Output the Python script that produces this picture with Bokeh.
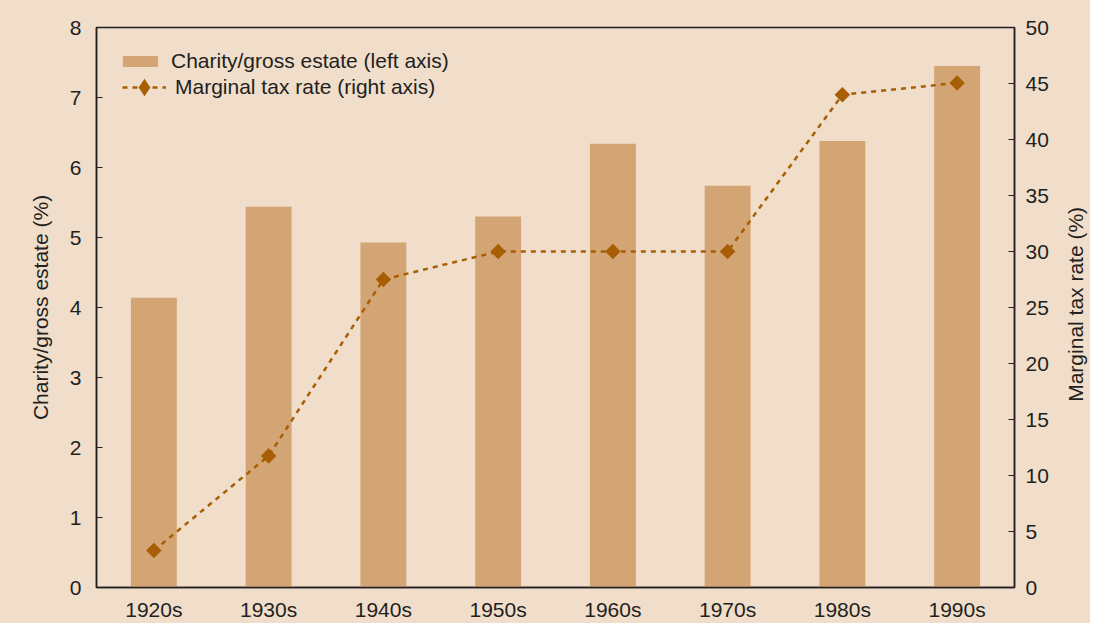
import math
from bokeh.plotting import figure
from bokeh.layouts import row
from bokeh.models import (Range1d, LinearAxis, FixedTicker, Legend, LegendItem,
                          ColumnDataSource, FactorRange)
from bokeh.core.properties import value
from bokeh.embed import file_html
from bokeh.resources import INLINE

decades = ["1920s", "1930s", "1940s", "1950s", "1960s", "1970s", "1980s", "1990s"]
charity = [4.14, 5.44, 4.93, 5.30, 6.34, 5.74, 6.38, 7.45]
tax_rate = [3.3, 11.75, 27.5, 30.0, 30.0, 30.0, 44.0, 45.05]
left_ticks = [0, 1, 2, 3, 4, 5, 6, 7, 8]
right_ticks = [0, 5, 10, 15, 20, 25, 30, 35, 40, 45, 50]
right_title = "Marginal tax rate (%)"

BG = "#f0ddca"
BAR = "#d4a574"
LINE = "#a85e05"
TXT = "#231f20"
FONT = "Liberation Sans"
FS = "21px"

src = ColumnDataSource(dict(x=decades, c=charity, t=tax_rate))

W = 1060
SIDE_W = 30
H = 623
LEFT = 96
RIGHT = 46
TOP = 27
BOT = 34
p = figure(width=W, height=H, x_range=FactorRange(*decades, range_padding=0),
           y_range=Range1d(0, 8), output_backend="svg", toolbar_location=None,
           background_fill_color=BG, border_fill_color=BG,
           min_border_left=LEFT, min_border_right=RIGHT, min_border_top=TOP, min_border_bottom=BOT)
p.outline_line_color = TXT
p.outline_line_width = 1.5
p.grid.visible = False

p.extra_y_ranges = {"right": Range1d(0, 50)}

bars = p.vbar(x="x", top="c", width=0.40, source=src, fill_color=BAR, line_color=None)
line = p.line(x="x", y="t", source=src, y_range_name="right", line_color=LINE,
              line_width=2.5, line_dash="5 5")
pts = p.scatter(x="x", y="t", source=src, y_range_name="right", marker="square",
                size=11, angle=45, angle_units="deg", fill_color=LINE, line_color=None)
# legend-only marker: a single missing value, so nothing is drawn in the plot
leg_src = ColumnDataSource(dict(x=[decades[0]], t=[float("nan")]))
leg_marker = p.scatter(x="x", y="t", source=leg_src, y_range_name="right", marker="diamond",
                       size=17, fill_color=LINE, line_color=None)

def style(ax):
    ax.axis_line_color = TXT
    ax.axis_line_width = 1.5
    ax.major_tick_line_color = TXT
    ax.major_tick_line_width = 1.2
    ax.major_tick_in = 6
    ax.major_tick_out = 0
    ax.minor_tick_line_color = None
    ax.major_label_text_font = FONT
    ax.major_label_text_font_size = FS
    ax.major_label_text_color = TXT
    ax.axis_label_text_font = FONT
    ax.axis_label_text_font_size = FS
    ax.axis_label_text_font_style = "normal"
    ax.axis_label_text_color = TXT

yl = p.yaxis[0]
style(yl)
yl.ticker = FixedTicker(ticks=left_ticks)
yl.axis_label = "Charity/gross estate (%)"
yl.major_label_standoff = 15
yl.axis_label_standoff = 15

xa = p.xaxis[0]
style(xa)
xa.major_tick_in = 0
xa.major_label_standoff = 10

yr = LinearAxis(y_range_name="right", ticker=FixedTicker(ticks=right_ticks))
style(yr)
yr.major_label_standoff = 11
p.add_layout(yr, "right")

def base_legend(items):
    lg = Legend(items=items)
    lg.background_fill_alpha = 0
    lg.border_line_color = None
    lg.label_text_font = FONT
    lg.label_text_font_size = FS
    lg.label_text_color = TXT
    lg.label_standoff = 9
    lg.glyph_width = 44
    return lg

frame_h = H - TOP - BOT

legA = base_legend([LegendItem(label="Charity/gross estate (left axis)", renderers=[bars])])
legA.location = "top_left"
legA.glyph_height = 14
legA.margin = 22
legA.padding = 4
p.add_layout(legA)

legB = base_legend([LegendItem(label="Marginal tax rate (right axis)", renderers=[line, leg_marker])])
legB.glyph_height = 44
legB.margin = 0
legB.padding = 0
legB.location = (26, frame_h - 84)
p.add_layout(legB)

# narrow side panel holding the right axis title, reading bottom-to-top
side = figure(width=SIDE_W, height=H, x_range=Range1d(0, 1), y_range=Range1d(0, H),
              output_backend="svg", toolbar_location=None,
              background_fill_color=BG, border_fill_color=BG, min_border=0)
side.axis.visible = False
side.grid.visible = False
side.outline_line_color = None
side.text(x=[0.5], y=[H - TOP - frame_h / 2], text=[right_title], angle=90, angle_units="deg",
          text_align="center", text_baseline="middle", text_font=value(FONT),
          text_font_size=FS, text_color=TXT)

layout = row(p, side, spacing=0, styles={"background-color": BG})
open("out.html", "w").write(file_html(layout, INLINE))
